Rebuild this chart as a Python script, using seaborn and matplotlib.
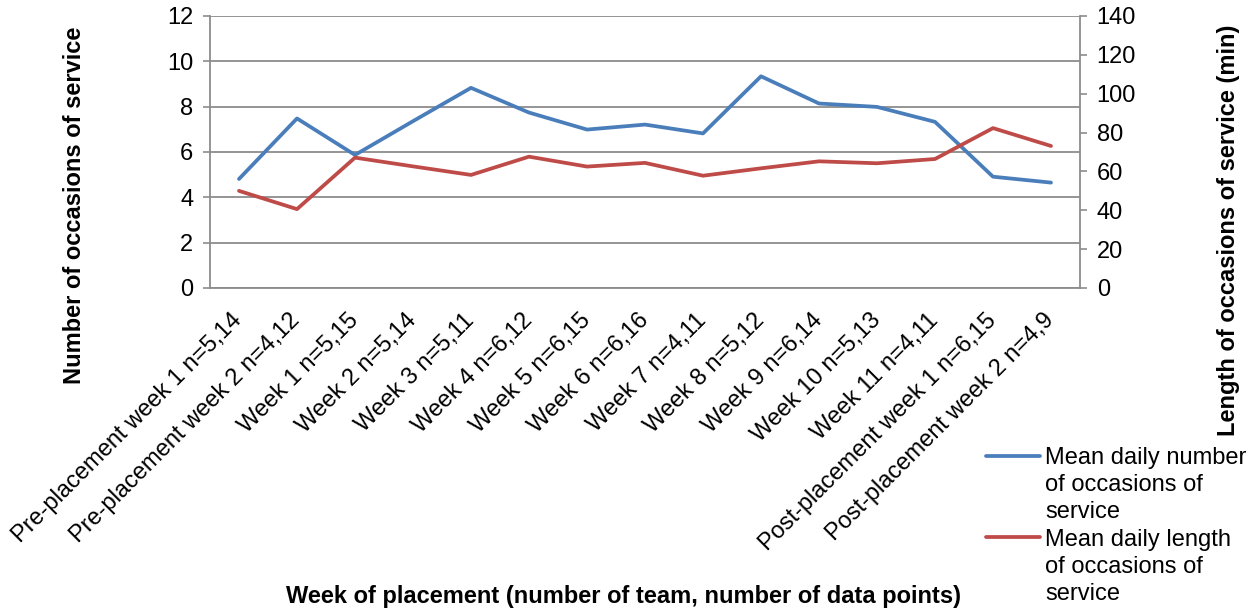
import numpy as np
import pandas as pd
import matplotlib.pyplot as plt
import seaborn as sns
from matplotlib.lines import Line2D

# categories on the x axis
weeks = ['Pre-placement week 1 n=5,14', 'Pre-placement week 2 n=4,12',
         'Week 1 n=5,15', 'Week 2 n=5,14', 'Week 3 n=5,11', 'Week 4 n=6,12',
         'Week 5 n=6,15', 'Week 6 n=6,16', 'Week 7 n=4,11', 'Week 8 n=5,12',
         'Week 9 n=6,14', 'Week 10 n=5,13', 'Week 11 n=4,11',
         'Post-placement week 1 n=6,15', 'Post-placement week 2 n=4,9']

# mean daily number of occasions of service (left axis)
occasions = [4.81, 7.48, 5.87, 7.36, 8.83, 7.74, 6.99, 7.21, 6.82, 9.34,
             8.14, 7.99, 7.33, 4.91, 4.65]
# mean daily length of occasions of service, minutes (right axis)
length_min = [50.0, 40.6, 67.1, 62.6, 58.2, 67.6, 62.5, 64.4, 57.8, 61.6,
              65.2, 64.2, 66.4, 82.3, 73.1]

left_ticks = [0, 2, 4, 6, 8, 10, 12]
right_ticks = [0, 20, 40, 60, 80, 100, 120, 140]

blue = '#4A7EBB'
red = '#BE4B48'
gray = '#8C8C8C'
fs = 17

sns.set_style('white')
plt.rcParams['font.family'] = ['Liberation Sans', 'DejaVu Sans']
plt.rcParams['text.color'] = 'black'
plt.rcParams['xtick.labelcolor'] = 'black'
plt.rcParams['ytick.labelcolor'] = 'black'

df = pd.DataFrame({'pos': np.arange(len(weeks)), 'week': weeks,
                   'occ': occasions, 'len': length_min})

fig = plt.figure(figsize=(12.54, 6.15), dpi=100)
ax = fig.add_axes([210/1254, 1-288/615, 870/1254, 272/615])
ax2 = ax.twinx()

sns.lineplot(data=df, x='pos', y='occ', ax=ax, color=blue, lw=2.7)
sns.lineplot(data=df, x='pos', y='len', ax=ax2, color=red, lw=2.7)

ax.set_xlim(-0.5, len(weeks)-0.5)
ax.set_ylim(0, 12)
ax.set_yticks(left_ticks)
ax2.set_ylim(0, 140)
ax2.set_yticks(right_ticks)

ax.set_xticks(df['pos'])
ax.set_xticklabels(weeks, rotation=45, ha='right', va='center',
                   rotation_mode='anchor')
ax.set_xticks(np.arange(-0.5, len(weeks), 1), minor=True)
ax.tick_params(axis='x', which='major', length=0, pad=21, labelsize=fs,
               labelcolor='black')
ax.tick_params(axis='x', which='minor', length=5, width=1.2, color=gray)
ax.tick_params(axis='y', length=5, width=1.2, color=gray, pad=7, labelsize=fs,
               labelcolor='black')
ax2.tick_params(axis='y', length=5, width=1.2, color=gray, pad=7, labelsize=fs,
                labelcolor='black')

ax.yaxis.grid(True, color=gray, lw=1.3)
ax.set_axisbelow(True)
ax.set_xlabel('')
ax.set_ylabel('')
ax2.set_ylabel('')

for a in (ax, ax2):
    for s in a.spines.values():
        s.set_visible(False)
ax.spines['left'].set_visible(True)
ax.spines['bottom'].set_visible(True)
ax2.spines['right'].set_visible(True)
for s in (ax.spines['left'], ax.spines['bottom'], ax2.spines['right']):
    s.set_color(gray)
    s.set_linewidth(1.3)

fig.text(75/1254, 1-205/615, 'Number of occasions of service', rotation=90,
         ha='center', va='center', fontsize=fs, fontweight='bold')
fig.text(1228/1254, 1-230/615, 'Length of occasions of service (min)',
         rotation=90, ha='center', va='center', fontsize=fs, fontweight='bold')
fig.text(624/1254, 1-596/615,
         'Week of placement (number of team, number of data points)',
         ha='center', va='center', fontsize=fs, fontweight='bold')

# legend: handle sits next to the first line of each wrapped label
blank = Line2D([], [], color='none')
handles = [Line2D([], [], color=blue, lw=2.7), blank, blank,
           Line2D([], [], color=red, lw=2.7), blank, blank]
labels = ['Mean daily number', 'of occasions of', 'service',
          'Mean daily length', 'of occasions of', 'service']
fig.legend(handles, labels, loc='upper left',
           bbox_to_anchor=(986/1254, 1-447/615), frameon=False,
           fontsize=fs, labelspacing=0.22, handlelength=2.3,
           handletextpad=0.2, borderpad=0, borderaxespad=0)

fig.savefig('out.png', dpi=100)
